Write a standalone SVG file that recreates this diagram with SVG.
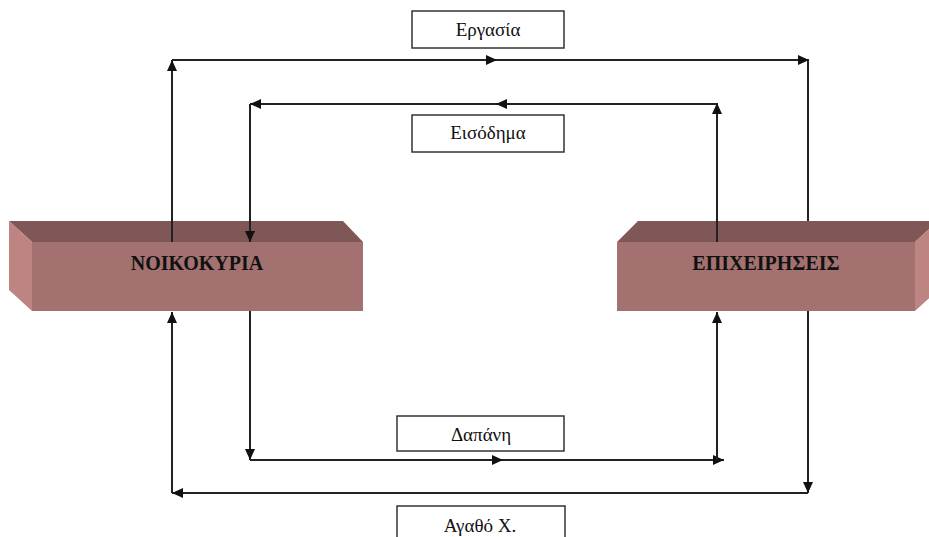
<svg xmlns="http://www.w3.org/2000/svg" width="929" height="537" viewBox="0 0 929 537">
<style>
.front{fill:#A37170;}
.top{fill:#7F5756;}
.side{fill:#BE8482;}
.title{font-family:"Liberation Serif","Times New Roman",serif;font-weight:bold;font-size:20px;fill:#111;text-anchor:middle;}
.lbox{fill:#fff;stroke:#333;stroke-width:1.5;}
.ltext{font-family:"Liberation Serif","Times New Roman",serif;font-size:19px;fill:#111;text-anchor:middle;}
.c{fill:none;stroke:#222;stroke-width:2;}
.a{marker-end:url(#arr);}
</style>
<defs>
<marker id="arr" markerUnits="userSpaceOnUse" markerWidth="11" markerHeight="10" refX="11" refY="5" orient="auto">
<path d="M0,0 L11,5 L0,10 z" fill="#111"/>
</marker>
</defs>
<rect width="929" height="537" fill="#fff"/>
<g id="households">
<polygon class="top" points="9,221 343,221 363,242 32,242"/>
<polygon class="side" points="9,221 32,242 32,311 9,290"/>
<rect class="front" x="32" y="242" width="331" height="69"/>
<text class="title" x="197" y="270">ΝΟΙΚΟΚΥΡΙΑ</text>
</g>
<g id="firms">
<polygon class="top" points="617,242 638,221 938,221 915,242"/>
<polygon class="side" points="915,242 938,221 938,290 915,311"/>
<rect class="front" x="617" y="242" width="298" height="69"/>
<text class="title" x="766" y="270">ΕΠΙΧΕΙΡΗΣΕΙΣ</text>
</g>
<g id="label-ergasia">
<rect class="lbox" x="412" y="11" width="152" height="37"/>
<text class="ltext" x="488" y="36">Εργασία</text>
</g>
<g id="label-eisodima">
<rect class="lbox" x="412" y="115" width="152" height="37"/>
<text class="ltext" x="488" y="139">Εισόδημα</text>
</g>
<g id="label-dapani">
<rect class="lbox" x="397" y="416" width="167" height="35"/>
<text class="ltext" x="481" y="441">Δαπάνη</text>
</g>
<g id="label-agatho">
<rect class="lbox" x="397" y="506" width="168" height="40"/>
<text class="ltext" x="480" y="532">Αγαθό Χ.</text>
</g>
<g id="connectors">
<path class="c a" d="M172,242 V60"/>
<path class="c a" d="M172,60 H497"/>
<path class="c a" d="M497,60 H809"/>
<path class="c" d="M808,60 V221"/>
<path class="c a" d="M717,242 V103"/>
<path class="c a" d="M717,104 H496"/>
<path class="c a" d="M496,104 H250"/>
<path class="c a" d="M250,104 V242"/>
<path class="c a" d="M250,311 V460"/>
<path class="c a" d="M250,460 H503"/>
<path class="c a" d="M503,460 H724"/>
<path class="c a" d="M717,460 V312"/>
<path class="c a" d="M808,311 V493"/>
<path class="c a" d="M808,493 H172"/>
<path class="c a" d="M172,493 V312"/>
</g>
</svg>
